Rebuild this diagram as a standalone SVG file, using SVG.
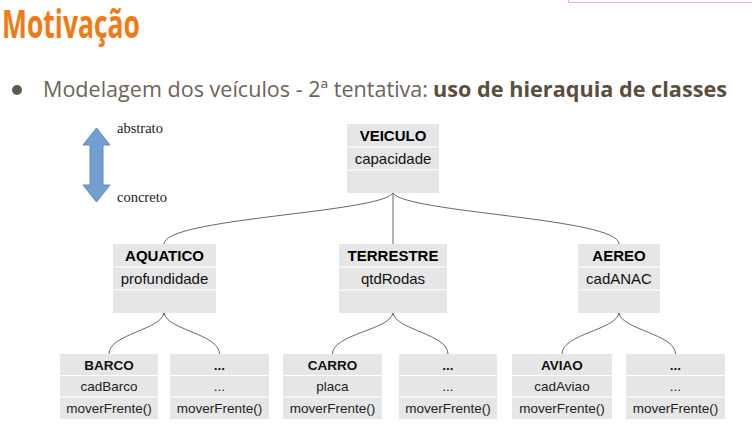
<svg xmlns="http://www.w3.org/2000/svg" width="752" height="424" viewBox="0 0 752 424">
<style>
.box{fill:#e6e6e6}
.div{stroke:#ffffff;stroke-width:1.2}
.hd{font-family:"Liberation Sans",Arial,sans-serif;font-weight:bold;font-size:15px;fill:#000;text-anchor:middle}
.tx{font-family:"Liberation Sans",Arial,sans-serif;font-size:15px;fill:#111;text-anchor:middle}
.hd2{font-family:"Liberation Sans",Arial,sans-serif;font-weight:bold;font-size:13.5px;fill:#111;text-anchor:middle}
.tx2{font-family:"Liberation Sans",Arial,sans-serif;font-size:13.5px;fill:#222;text-anchor:middle}
.con{fill:none;stroke:#555;stroke-width:0.9}
.lbl{font-family:"Liberation Serif","Times New Roman",serif;font-size:14.5px;fill:#222}
</style>
<rect x="0" y="0" width="752" height="424" fill="#fff"/>
<rect x="568.5" y="-10" width="200" height="12.5" fill="#fff" stroke="#f3b9b9" stroke-width="1.2"/>
<text x="2" y="38" font-family="Open Sans, sans-serif" font-weight="bold" font-size="40" fill="#f07b14" textLength="138" lengthAdjust="spacingAndGlyphs">Motivação</text>
<circle cx="17" cy="90" r="5" fill="#5f5a4f"/>
<text x="43" y="97" font-family="Open Sans, sans-serif" font-size="21" fill="#6b6459" textLength="385" lengthAdjust="spacingAndGlyphs">Modelagem dos veículos - 2ª tentativa:</text>
<text x="433" y="97" font-family="Open Sans, sans-serif" font-weight="bold" font-size="21" fill="#5a4e3c" textLength="294" lengthAdjust="spacingAndGlyphs">uso de hieraquia de classes</text>

<g id="scale">
<polygon points="96.5,128 110,145 103,145 103,185 110,185 96.5,202 83,185 90,185 90,145 83,145" fill="#729fcf" stroke="#5e8ac2" stroke-width="1"/>
<text class="lbl" x="117" y="133">abstrato</text>
<text class="lbl" x="117" y="202">concreto</text>
</g>

<g id="connectors">
<path class="con" d="M393,193 C380,213 164,218 164,244"/>
<path class="con" d="M393,193 L393,244"/>
<path class="con" d="M393,193 C406,213 619,218 619,244"/>
<path class="con" d="M164,313 C161,330 109,334 109,354"/>
<path class="con" d="M164,313 C167,330 219.5,334 219.5,354"/>
<path class="con" d="M393,313 C390,330 332.5,334 332.5,354"/>
<path class="con" d="M393,313 C396,330 448,334 448,354"/>
<path class="con" d="M619,313 C616,330 562,334 562,354"/>
<path class="con" d="M619,313 C622,330 675.5,334 675.5,354"/>
</g>

<g id="veiculo">
<rect class="box" x="347" y="124" width="92" height="69"/>
<line class="div" x1="347" y1="147" x2="439" y2="147"/>
<line class="div" x1="347" y1="170" x2="439" y2="170"/>
<text class="hd" x="393" y="141">VEICULO</text>
<text class="tx" x="393" y="164">capacidade</text>
</g>

<g id="aquatico">
<rect class="box" x="113" y="244" width="103" height="69"/>
<line class="div" x1="113" y1="267" x2="216" y2="267"/>
<line class="div" x1="113" y1="290" x2="216" y2="290"/>
<text class="hd" x="164.5" y="261">AQUATICO</text>
<text class="tx" x="164.5" y="284">profundidade</text>
</g>

<g id="terrestre">
<rect class="box" x="339" y="244" width="108" height="69"/>
<line class="div" x1="339" y1="267" x2="447" y2="267"/>
<line class="div" x1="339" y1="290" x2="447" y2="290"/>
<text class="hd" x="393" y="261">TERRESTRE</text>
<text class="tx" x="393" y="284">qtdRodas</text>
</g>

<g id="aereo">
<rect class="box" x="578" y="244" width="82" height="69"/>
<line class="div" x1="578" y1="267" x2="660" y2="267"/>
<line class="div" x1="578" y1="290" x2="660" y2="290"/>
<text class="hd" x="619" y="261">AEREO</text>
<text class="tx" x="619" y="284">cadANAC</text>
</g>

<g id="barco">
<rect class="box" x="60" y="354" width="98" height="65"/>
<line class="div" x1="60" y1="375.5" x2="158" y2="375.5"/>
<line class="div" x1="60" y1="397" x2="158" y2="397"/>
<text class="hd2" x="109" y="370">BARCO</text>
<text class="tx2" x="109" y="391">cadBarco</text>
<text class="tx2" x="109" y="413">moverFrente()</text>
</g>

<g id="aquatico-outro">
<rect class="box" x="170" y="354" width="99" height="65"/>
<line class="div" x1="170" y1="375.5" x2="269" y2="375.5"/>
<line class="div" x1="170" y1="397" x2="269" y2="397"/>
<text class="hd2" x="219.5" y="370">...</text>
<text class="tx2" x="219.5" y="391">...</text>
<text class="tx2" x="219.5" y="413">moverFrente()</text>
</g>

<g id="carro">
<rect class="box" x="283" y="354" width="99" height="65"/>
<line class="div" x1="283" y1="375.5" x2="382" y2="375.5"/>
<line class="div" x1="283" y1="397" x2="382" y2="397"/>
<text class="hd2" x="332.5" y="370">CARRO</text>
<text class="tx2" x="332.5" y="391">placa</text>
<text class="tx2" x="332.5" y="413">moverFrente()</text>
</g>

<g id="terrestre-outro">
<rect class="box" x="399" y="354" width="98" height="65"/>
<line class="div" x1="399" y1="375.5" x2="497" y2="375.5"/>
<line class="div" x1="399" y1="397" x2="497" y2="397"/>
<text class="hd2" x="448" y="370">...</text>
<text class="tx2" x="448" y="391">...</text>
<text class="tx2" x="448" y="413">moverFrente()</text>
</g>

<g id="aviao">
<rect class="box" x="512" y="354" width="100" height="65"/>
<line class="div" x1="512" y1="375.5" x2="612" y2="375.5"/>
<line class="div" x1="512" y1="397" x2="612" y2="397"/>
<text class="hd2" x="562" y="370">AVIAO</text>
<text class="tx2" x="562" y="391">cadAviao</text>
<text class="tx2" x="562" y="413">moverFrente()</text>
</g>

<g id="aereo-outro">
<rect class="box" x="626" y="354" width="99" height="65"/>
<line class="div" x1="626" y1="375.5" x2="725" y2="375.5"/>
<line class="div" x1="626" y1="397" x2="725" y2="397"/>
<text class="hd2" x="675.5" y="370">...</text>
<text class="tx2" x="675.5" y="391">...</text>
<text class="tx2" x="675.5" y="413">moverFrente()</text>
</g>
</svg>
